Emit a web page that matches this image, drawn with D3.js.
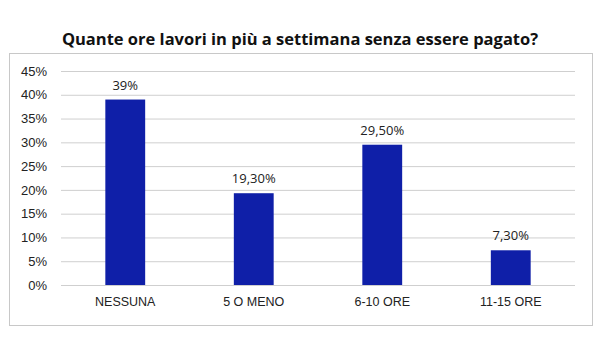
<!DOCTYPE html>
<html>
<head>
<meta charset="utf-8">
<script src="https://cdn.jsdelivr.net/npm/d3@7"></script>
<style>
  body { margin: 0; background: #fff; }
  svg { display: block; font-family: "Open Sans", sans-serif; }
</style>
</head>
<body>
<div id="chart"></div>
<script>
// chart values
let categories = ["NESSUNA", "5 O MENO", "6-10 ORE", "11-15 ORE"];
let values = [39, 19.3, 29.5, 7.3];
let valueLabels = ["39%", "19,30%", "29,50%", "7,30%"];
let yTicks = [0, 5, 10, 15, 20, 25, 30, 35, 40, 45];

let w = 600, h = 360;

let svg = d3.select("#chart").append("svg")
  .attr("width", w)
  .attr("height", h);

// outer frame
svg.append("rect")
  .attr("x", 9.5).attr("y", 53.5)
  .attr("width", 583).attr("height", 272)
  .attr("fill", "none")
  .attr("stroke", "#c8c8c8");

// title
svg.append("text")
  .attr("x", 300).attr("y", 45)
  .attr("text-anchor", "middle")
  .attr("font-size", 16.5)
  .attr("font-weight", "bold")
  .attr("fill", "#111")
  .text("Quante ore lavori in più a settimana senza essere pagato?");

let xScale = d3.scaleBand().domain(categories).range([61, 575]).paddingInner(0.69).paddingOuter(0.345);
let yScale = d3.scaleLinear().domain([0, 45]).range([285, 71]);

// gridlines + y axis
let yAxis = d3.axisLeft(yScale)
  .tickValues(yTicks)
  .tickSize(-(575 - 61))
  .tickPadding(14)
  .tickFormat(d => d + "%");

let yg = svg.append("g")
  .attr("transform", "translate(61,0)")
  .call(yAxis);
yg.select(".domain").remove();
yg.selectAll(".tick line").attr("stroke", "#cfcfcf");
yg.selectAll(".tick text").attr("font-size", 13).attr("fill", "#222");

// bars
svg.selectAll(".bar").data(values).enter()
  .append("rect")
  .attr("class", "bar")
  .attr("x", (d, i) => xScale(categories[i]))
  .attr("y", d => yScale(d))
  .attr("width", xScale.bandwidth())
  .attr("height", d => yScale(0) - yScale(d))
  .attr("fill", "#0f1fa8");

// value labels
svg.selectAll(".vlabel").data(values).enter()
  .append("text")
  .attr("x", (d, i) => xScale(categories[i]) + xScale.bandwidth() / 2)
  .attr("y", d => yScale(d) - 10)
  .attr("text-anchor", "middle")
  .attr("font-size", 13)
  .attr("fill", "#222")
  .text((d, i) => valueLabels[i]);

// x axis labels
let xAxis = d3.axisBottom(xScale).tickSize(0).tickPadding(12);
let xg = svg.append("g")
  .attr("transform", "translate(0,285)")
  .call(xAxis);
xg.select(".domain").remove();
xg.selectAll(".tick text").attr("font-size", 12.5).attr("fill", "#222");
</script>
</body>
</html>
